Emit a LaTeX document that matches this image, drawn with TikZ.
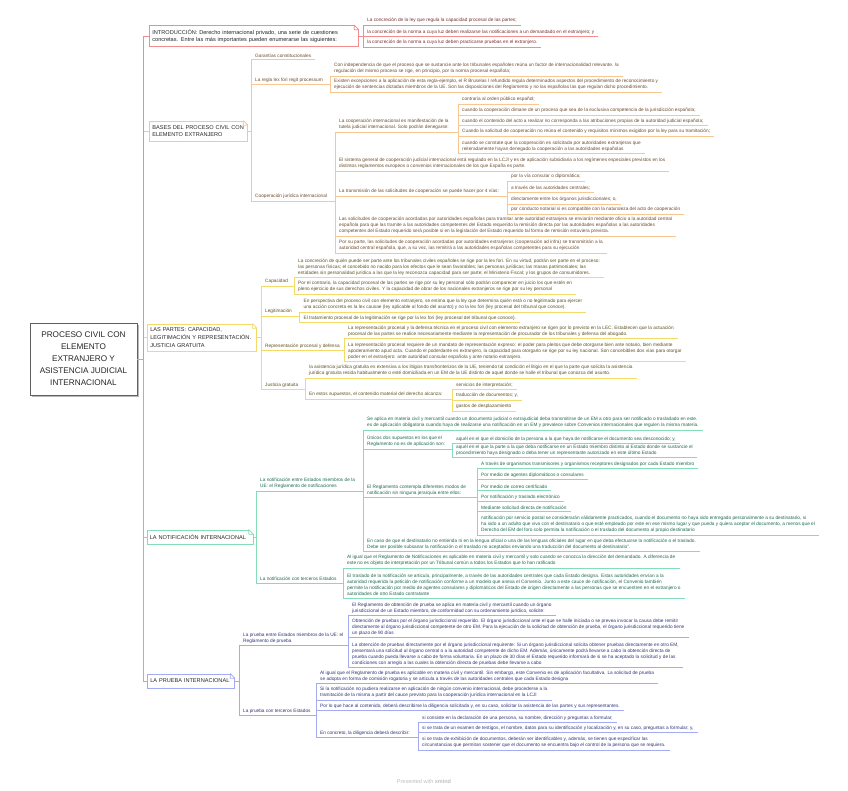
\documentclass[tikz,border=0pt]{standalone}
\usepackage{fontspec}
\setmainfont{Liberation Sans}
\usepackage{xcolor}
\usepackage{tikz}
\usetikzlibrary{calc,shadows}

\definecolor{lnRed}{HTML}{F28D8D}
\definecolor{txRed}{HTML}{7A3030}
\definecolor{lnOrg}{HTML}{F8C690}
\definecolor{txOrg}{HTML}{6E4B2C}
\definecolor{lnYel}{HTML}{F4DA66}
\definecolor{txYel}{HTML}{5E5322}
\definecolor{lnGrn}{HTML}{84DCB9}
\definecolor{txGrn}{HTML}{1F6A4F}
\definecolor{lnBlu}{HTML}{A3ACF3}
\definecolor{txBlu}{HTML}{2F3578}
\definecolor{txMain}{HTML}{262626}

\newcommand{\leafsize}{\fontsize{4.75}{6}\selectfont}
\newcommand{\topicsize}{\fontsize{5.6}{7.6}\selectfont}
\newcommand{\rootsize}{\fontsize{8.2}{12}\selectfont}

\begin{document}
\begin{tikzpicture}[
    x=1pt, y=-1pt,
    rootbox/.style={rectangle, draw=gray!75!black, line width=0.8pt, fill=white, align=center, minimum width=107pt, minimum height=72pt, font=\rootsize, text=txMain, drop shadow={shadow xshift=1.8pt, shadow yshift=-1.8pt, fill=gray!55, opacity=1}},
    topic/.style={rectangle, line width=0.7pt, fill=white, anchor=west, align=left, inner xsep=3pt, inner ysep=1pt, font=\topicsize, text=txMain},
    leaf/.style={anchor=south west, align=left, inner xsep=4pt, inner ysep=2.1pt, font=\leafsize},
    link/.style={line width=0.7pt},
    redbr/.style={text=txRed},
    orgbr/.style={text=txOrg},
    yelbr/.style={text=txYel},
    grnbr/.style={text=txGrn},
    blubr/.style={text=txBlu}
]
    \fill [white] (0,0) rectangle (848,790);
    \useasboundingbox (0,0) rectangle (848,790);

    \node [rootbox] (root) at (83.5,359) {PROCESO CIVIL CON\\ELEMENTO\\EXTRANJERO Y\\ASISTENCIA JUDICIAL\\INTERNACIONAL};

    \node [topic, draw=lnRed, text width=203pt, minimum height=21pt] (intro) at (149,36) {INTRODUCCIÓN: Derecho internacional privado, una serie de cuestiones\\concretas. Entre las más importantes pueden enumerarse las siguientes:};
    \node [topic, draw=lnOrg, text width=92pt, minimum height=20pt] (bases) at (149,131) {BASES DEL PROCESO CIVIL CON\\ELEMENTO EXTRANJERO};
    \node [topic, draw=lnYel, text width=103pt, minimum height=27pt] (partes) at (147,337.5) {LAS PARTES: CAPACIDAD,\\LEGITIMACIÓN Y REPRESENTACIÓN.\\JUSTICIA GRATUITA};
    \node [topic, draw=lnGrn, text width=100pt, minimum height=14pt] (notif) at (146.5,537) {LA NOTIFICACIÓN INTERNACIONAL};
    \node [topic, draw=lnBlu, text width=81pt, minimum height=14pt] (prueba) at (147,681) {LA PRUEBA INTERNACIONAL};

    % introduccion
    \node [leaf, redbr] (i1) at (363,25) {La concreción de la ley que regula la capacidad procesal de las partes;};
    \node [leaf, redbr] (i2) at (363,36.5) {la concreción de la norma a cuya luz deben realizarse las notificaciones a un demandado en el extranjero; y};
    \node [leaf, redbr] (i3) at (363,47) {la concreción de la norma a cuya luz deben practicarse pruebas en el extranjero.};

    % bases
    \node [leaf, orgbr] (b1) at (251,59.5) {Garantías constitucionales};
    \node [leaf, orgbr] (b2) at (251,84.5) {La regla lex fori regit processum};
    \node [leaf, orgbr] (b3) at (251,201) {Cooperación jurídica internacional};
    \node [leaf, orgbr] (b21) at (330,76) {Con independencia de que el proceso que se sustancie ante los tribunales españoles reúna un factor de internacionalidad relevante. la\\regulación del mismo proceso se rige, en principio, por la norma procesal española;};
    \node [leaf, orgbr] (b22) at (330,92) {Existen excepciones a la aplicación de esta regla-ejemplo, el R Bruselas I refundido regula determinados aspectos del procedimiento de reconocimiento y\\ejecución de sentencias dictadas miembros de la UE. Son las disposiciones del Reglamento y no las españolas las que regulan dicho procedimiento.};
    \node [leaf, orgbr] (b31) at (335,132) {La cooperación internacional es manifestación de la\\tutela judicial internacional. Solo podrán denegarse:};
    \node [leaf, orgbr] (b32) at (335,171) {El sistema general de cooperación judicial internacional está regulado en la LCJI y es de aplicación subsidiaria a los regímenes especiales previstos en los\\distintos reglamentos europeos o convenios internacionales de los que España es parte.};
    \node [leaf, orgbr] (b33) at (335,196) {La transmisión de las solicitudes de cooperación se puede hacer por 4 vías:};
    \node [leaf, orgbr] (b34) at (335,236) {Las solicitudes de cooperación acordadas por autoridades españolas para tramitar ante autoridad extranjera se enviarán mediante oficio a la autoridad central\\española para que las tramite a las autoridades competentes del Estado requerido la remisión directa por las autoridades españolas a las autoridades\\competentes del Estado requerido será posible si en la legislación del Estado requerido tal forma de remisión estuviera prevista.};
    \node [leaf, orgbr] (b35) at (335,253) {Por su parte, las solicitudes de cooperación acordadas por autoridades extranjeras (cooperación ad infra) se transmitirán a la\\autoridad central española, que, a su vez, las remitirá a las autoridades españolas competentes para su ejecución};
    \node [leaf, orgbr] (b311) at (458,104) {contraria al orden público español;};
    \node [leaf, orgbr] (b312) at (458,115) {cuando la cooperación dimane de un proceso que sea de la exclusiva competencia de la jurisdicción española;};
    \node [leaf, orgbr] (b313) at (458,125.5) {cuando el contenido del acto a realizar no corresponda a las atribuciones propias de la autoridad judicial española;};
    \node [leaf, orgbr] (b314) at (458,136) {Cuando la solicitud de cooperación no reúna el contenido y requisitos mínimos exigidos por la ley para su tramitación;};
    \node [leaf, orgbr] (b315) at (458,153.5) {cuando se constate que la cooperación es solicitada por autoridades extranjeras que\\reiteradamente hayan denegado la cooperación a las autoridades españolas};
    \node [leaf, orgbr] (b331) at (507,181) {por la vía consular o diplomática;};
    \node [leaf, orgbr] (b332) at (507,192.5) {a través de las autoridades centrales;};
    \node [leaf, orgbr] (b333) at (507,204) {directamente entre los órganos jurisdiccionales; o,};
    \node [leaf, orgbr] (b334) at (507,214) {por conducto notarial si es compatible con la naturaleza del acto de cooperación};

    % las partes
    \node [leaf, yelbr] (p1) at (261,286) {Capacidad};
    \node [leaf, yelbr] (p2) at (261,316) {Legitimación};
    \node [leaf, yelbr] (p3) at (261,350.7) {Representación procesal y defensa};
    \node [leaf, yelbr] (p4) at (261,389.3) {Justicia gratuita};
    \node [leaf, yelbr] (p11) at (294,277.7) {La concreción de quién puede ser parte ante los tribunales civiles españoles se rige por la lex fori. En su virtud, podrán ser parte en el proceso:\\las personas físicas; el concebido no nacido para los efectos que le sean favorables; las personas jurídicas; las masas patrimoniales; las\\entidades sin personalidad jurídica a las que la ley reconozca capacidad para ser parte; el Ministerio Fiscal; y los grupos de consumidores.};
    \node [leaf, yelbr] (p12) at (294,294) {Por el contrario, la capacidad procesal de las partes se rige por su ley personal sólo podrán comparecer en juicio los que estén en\\pleno ejercicio de sus derechos civiles. Y la capacidad de obrar de los nacionales extranjeros se rige por su ley personal};
    \node [leaf, yelbr] (p21) at (299.5,312) {En perspectiva del proceso civil con elemento extranjero, se estima que la ley que determina quién está o no legitimado para ejercer\\una acción concreta es la lex causae (ley aplicable al fondo del asunto) y no la lex fori (ley procesal del tribunal que conoce).};
    \node [leaf, yelbr] (p22) at (299.5,322.5) {El tratamiento procesal de la legitimación se rige por la lex fori (ley procesal del tribunal que conoce).};
    \node [leaf, yelbr] (p31) at (344,338.7) {La representación procesal y la defensa técnica en el proceso civil con elemento extranjero se rigen por lo previsto en la LEC. Establecen que la actuación\\procesal de las partes se realice necesariamente mediante la representación de procurador de los tribunales y defensa del abogado.};
    \node [leaf, yelbr] (p32) at (344,361.3) {La representación procesal requiere de un mandato de representación expreso: el poder para pleitos que debe otorgarse bien ante notario, bien mediante\\apoderamiento apud acta. Cuando el poderdante es extranjero, la capacidad para otorgarlo se rige por su ley nacional. Son concebibles dos vías para otorgar\\poder en el extranjero: ante autoridad consular española y ante notario extranjero.};
    \node [leaf, yelbr] (p41) at (305,378) {la asistencia jurídica gratuita es extensiva a los litigios transfronterizos de la UE, teniendo tal condición el litigio en el que la parte que solicita la asistencia\\jurídica gratuita resida habitualmente o esté domiciliada en un EM de la UE distinto de aquel donde se halle el tribunal que conozca del asunto.};
    \node [leaf, yelbr] (p42) at (305,399) {En estos supuestos, el contenido material del derecho alcanza:};
    \node [leaf, yelbr] (p421) at (452,389.3) {servicios de interpretación;};
    \node [leaf, yelbr] (p422) at (452,400) {traducción de documentos; y,};
    \node [leaf, yelbr] (p423) at (452,411) {gastos de desplazamiento};

    % notificacion
    \node [leaf, grnbr] (n1) at (256,491) {La notificación entre Estados miembros de la\\UE: el Reglamento de notificaciones};
    \node [leaf, grnbr] (n2) at (256,583) {La notificación con terceros Estados};
    \node [leaf, grnbr] (n11) at (363,430) {Se aplica en materia civil y mercantil cuando un documento judicial o extrajudicial deba transmitirse de un EM a otro para ser notificado o trasladado en este.\\es de aplicación obligatoria cuando haya de realizarse una notificación en un EM y prevalece sobre Convenios internacionales que regulen la misma materia.};
    \node [leaf, grnbr] (n12) at (363,449) {Únicos dos supuestos en los que el\\Reglamento no es de aplicación son:};
    \node [leaf, grnbr] (n13) at (363,497.3) {El Reglamento contempla diferentes modos de\\notificación sin ninguna jerarquía entre ellos:};
    \node [leaf, grnbr] (n14) at (363,551.5) {En caso de que el destinatario no entienda ni en la lengua oficial o una de las lenguas oficiales del lugar en que deba efectuarse la notificación o el traslado.\\Debe ser posible subsanar la notificación o el traslado no aceptados enviando una traducción del documento al destinatario”.};
    \node [leaf, grnbr] (n121) at (452,443.3) {aquél en el que el domicilio de la persona a la que haya de notificarse el documento sea desconocido; y,};
    \node [leaf, grnbr] (n122) at (452,457.7) {aquél en el que la parte a la que deba notificarse en un Estado miembro distinto al Estado donde se sustancie el\\procedimiento haya designado o deba tener un representante autorizado en este último Estado};
    \node [leaf, grnbr] (n131) at (477,468.3) {A través de organismos transmisores y organismos receptores designados por cada Estado miembro};
    \node [leaf, grnbr] (n132) at (477,479.3) {Por medio de agentes diplomáticos o consulares};
    \node [leaf, grnbr] (n133) at (477,490.7) {Por medio de correo certificado};
    \node [leaf, grnbr] (n134) at (477,501.7) {Por notificación y traslado electrónico};
    \node [leaf, grnbr] (n135) at (477,511.7) {Mediante solicitud directa de notificación};
    \node [leaf, grnbr] (n136) at (477,535) {notificación por servicio postal se considerarán válidamente practicados, cuando el documento no haya sido entregado personalmente a su destinatario, si\\ha sido a un adulto que viva con el destinatario o que esté empleado por este en ese mismo lugar y que pueda y quiera aceptar el documento, a menos que el\\Derecho del EM del foro solo permita la notificación o el traslado del documento al propio destinatario};
    \node [leaf, grnbr] (n21) at (343,568) {Al igual que el Reglamento de Notificaciones es aplicable en materia civil y mercantil y solo cuando se conozca la dirección del demandado. A diferencia de\\este no es objeto de interpretación por un Tribunal común a todos los Estados que lo han ratificado};
    \node [leaf, grnbr] (n22) at (343,598) {El traslado de la notificación se articula, principalmente, a través de las autoridades centrales que cada Estado designa. Estas autoridades envían a la\\autoridad requerida la petición de notificación conforme a un modelo que anexa el Convenio. Junto a este cauce de notificación, el Convenio también\\permite la notificación por medio de agentes consulares y diplomáticos del Estado de origen directamente a las personas que se encuentren en el extranjero o\\autoridades de otro Estado contratante};

    % prueba
    \node [leaf, blubr] (r1) at (239,645.7) {La prueba entre Estados miembros de la UE: el\\Reglamento de prueba};
    \node [leaf, blubr] (r2) at (239,715.3) {La prueba con terceros Estados};
    \node [leaf, blubr] (r11) at (348,615.7) {El Reglamento de obtención de prueba se aplica en materia civil y mercantil cuando un órgano\\jurisdiccional de un Estado miembro, de conformidad con su ordenamiento jurídico, solicite:};
    \node [leaf, blubr] (r12) at (348,637.3) {Obtención de pruebas por el órgano jurisdiccional requerido. El órgano jurisdiccional ante el que se halle iniciada o se prevea invocar la causa debe remitir\\directamente al órgano jurisdiccional competente de otro EM. Para la ejecución de la solicitud de obtención de prueba, el órgano jurisdiccional requerido tiene\\un plazo de 90 días};
    \node [leaf, blubr] (r13) at (348,667.3) {La obtención de pruebas directamente por el órgano jurisdiccional requirente: Si un órgano jurisdiccional solicita obtener pruebas directamente en otro EM,\\presentará una solicitud al órgano central o a la autoridad competente de dicho EM. Además, únicamente podrá llevarse a cabo la obtención directa de\\prueba cuando pueda llevarse a cabo de forma voluntaria. En un plazo de 30 días el Estado requerido informará de si se ha aceptado la solicitud y de las\\condiciones con arreglo a las cuales la obtención directa de pruebas debe llevarse a cabo};
    \node [leaf, blubr] (r21) at (316,683.3) {Al igual que el Reglamento de prueba es aplicable en materia civil y mercantil. Sin embargo, este Convenio es de aplicación facultativa. La solicitud de prueba\\se adopta en forma de comisión rogatoria y se articula a través de las autoridades centrales que cada Estado designa};
    \node [leaf, blubr] (r22) at (316,700) {Si la notificación no pudiera realizarse en aplicación de ningún convenio internacional, debe procederse a la\\tramitación de la misma a partir del cauce previsto para la cooperación jurídica internacional en la LCJI};
    \node [leaf, blubr] (r23) at (316,710.7) {Por lo que hace al contenido, deberá describirse la diligencia solicitada y, en su caso, solicitar la asistencia de las partes y sus representantes.};
    \node [leaf, blubr] (r24) at (316,737.7) {En concreto, la diligencia deberá describir:};
    \node [leaf, blubr] (r241) at (418,722.3) {si consiste en la declaración de una persona, su nombre, dirección y preguntas a formular;};
    \node [leaf, blubr] (r242) at (418,732.3) {si se trata de un examen de testigos, el nombre, datos para su identificación y localización y, en su caso, preguntas a formular; y,};
    \node [leaf, blubr] (r243) at (418,750) {si se trata de exhibición de documentos, deberán ser identificables y, además, se tienen que especificar las\\circunstancias que permitan sostener que el documento se encuentra bajo el control de la persona que se requiera.};

    \node [font=\fontsize{5.5}{6}\selectfont, text=gray!50] (footer) at (424,782) {Presented with \textbf{xmind}};

    % root to main topics
    \foreach \t/\c in {bases/lnOrg, partes/lnYel, intro/lnRed, notif/lnGrn, prueba/lnBlu}
        \draw [link, \c] (root.east) -- ++(6,0) |- (\t.west);

    % topic to subtopic, with the underline of the subtopic
    \foreach \p/\c in {intro.east/i1, intro.east/i2, intro.east/i3}
        \draw [link, lnRed] (\p) -| (\c.south west) -- (\c.south east);
    \foreach \p/\c in {bases.east/b1, bases.east/b2, bases.east/b3, b2.south east/b21, b2.south east/b22,
        b3.south east/b31, b3.south east/b32, b3.south east/b33, b3.south east/b34, b3.south east/b35,
        b31.south east/b311, b31.south east/b312, b31.south east/b313, b31.south east/b314, b31.south east/b315,
        b33.south east/b331, b33.south east/b332, b33.south east/b333, b33.south east/b334}
        \draw [link, lnOrg] (\p) -| (\c.south west) -- (\c.south east);
    \foreach \p/\c in {partes.east/p1, partes.east/p2, partes.east/p3, partes.east/p4,
        p1.south east/p11, p1.south east/p12, p2.south east/p21, p2.south east/p22,
        p3.south east/p31, p3.south east/p32, p4.south east/p41, p4.south east/p42,
        p42.south east/p421, p42.south east/p422, p42.south east/p423}
        \draw [link, lnYel] (\p) -| (\c.south west) -- (\c.south east);
    \foreach \p/\c in {notif.east/n1, notif.east/n2, n1.south east/n11, n1.south east/n12, n1.south east/n13, n1.south east/n14,
        n12.south east/n121, n12.south east/n122,
        n13.south east/n131, n13.south east/n132, n13.south east/n133, n13.south east/n134, n13.south east/n135, n13.south east/n136,
        n2.south east/n21, n2.south east/n22}
        \draw [link, lnGrn] (\p) -| (\c.south west) -- (\c.south east);
    \foreach \p/\c in {prueba.east/r1, prueba.east/r2, r1.south east/r11, r1.south east/r12, r1.south east/r13,
        r2.south east/r21, r2.south east/r22, r2.south east/r23, r2.south east/r24,
        r24.south east/r241, r24.south east/r242, r24.south east/r243}
        \draw [link, lnBlu] (\p) -| (\c.south west) -- (\c.south east);

    % folded corner of the topic boxes
    \foreach \n/\c in {intro/lnRed, bases/lnOrg, partes/lnYel, notif/lnGrn, prueba/lnBlu} {
        \fill [white] ($(\n.north east)+(-4.5,-0.6)$) -- ($(\n.north east)+(0.6,-0.6)$) -- ($(\n.north east)+(0.6,4.5)$) -- cycle;
        \draw [link, \c, line join=round] ($(\n.north east)+(-4.5,0)$) -- ($(\n.north east)+(0,4.5)$) -- ($(\n.north east)+(-4.5,4.5)$) -- cycle;
    }
\end{tikzpicture}
\end{document}
